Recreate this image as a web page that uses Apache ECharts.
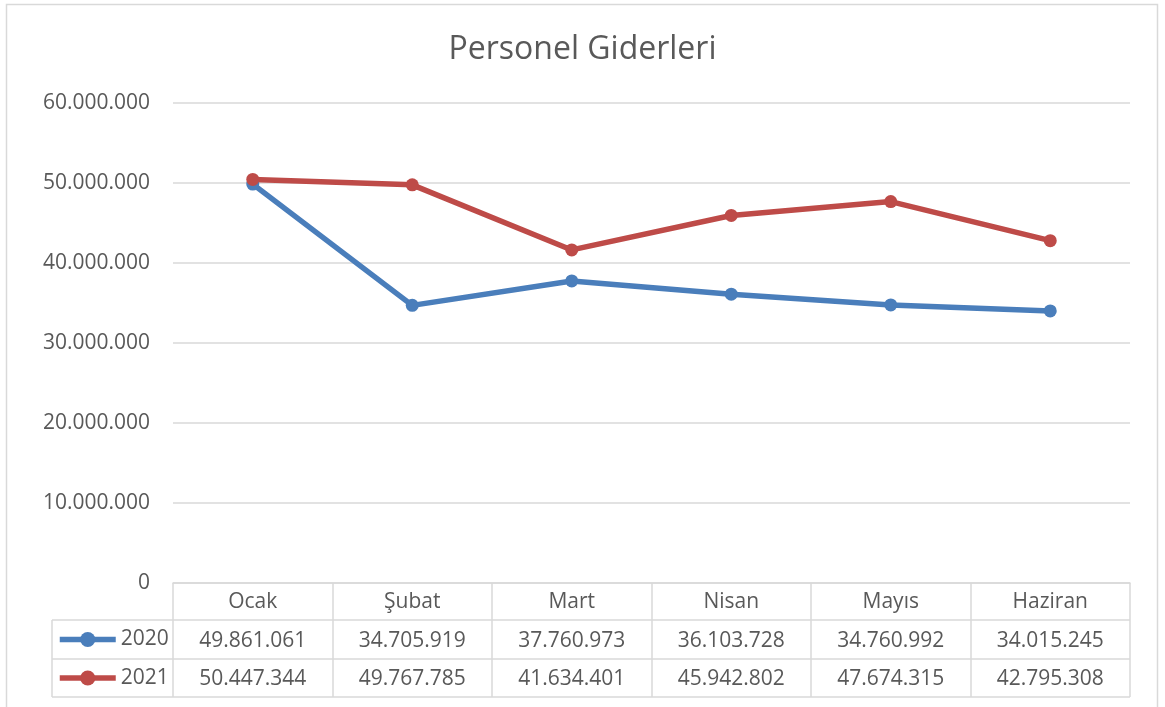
<!DOCTYPE html>
<html><head><meta charset="utf-8">
<script src="https://cdn.jsdelivr.net/npm/echarts@6/dist/echarts.min.js"></script>
<style>html,body{margin:0;padding:0;background:#fff}#c{width:1165px;height:707px}</style>
</head><body><div id="c"></div>
<script>
var title = 'Personel Giderleri';
var categories = ['Ocak', 'Şubat', 'Mart', 'Nisan', 'Mayıs', 'Haziran'];
var seriesNames = ['2020', '2021'];
var values2020 = [49861061, 34705919, 37760973, 36103728, 34760992, 34015245];
var values2021 = [50447344, 49767785, 41634401, 45942802, 47674315, 42795308];
var yTicks = [0, 10000000, 20000000, 30000000, 40000000, 50000000, 60000000];

function fmt(v){ return String(v).replace(/\B(?=(\d{3})+(?!\d))/g, '.'); }

var FONT = '"Open Sans", Lato, sans-serif';
var TXT = '#595959';
var GRID_C = '#d9d9d9';
var FS = 21;
var chart = echarts.init(document.getElementById('c'), null, {renderer:'canvas'});
var gl = 173, gr = 1165-1130, gt = 103, gb = 707-583;
var rowH = 38.5;

chart.setOption({
  animation:false,
  title:{text:title,left:'center',top:29,textStyle:{fontFamily:FONT,fontSize:32,fontWeight:'normal',color:TXT}},
  grid:{left:gl,right:gr,top:gt,bottom:gb,containLabel:false},
  legend:{
    orient:'vertical',left:57,top:628,padding:0,itemWidth:56,itemHeight:19,itemGap:15.5,
    lineStyle:{width:5.5},
    textStyle:{fontFamily:FONT,fontSize:FS,color:TXT,lineHeight:23},
    data:seriesNames
  },
  xAxis:{
    type:'category',data:categories,boundaryGap:true,
    axisLine:{lineStyle:{color:GRID_C,width:1.5}},
    axisTick:{show:true,length:114,lineStyle:{color:GRID_C,width:1.5}},
    axisLabel:{
      margin:0,interval:0,fontFamily:FONT,fontSize:FS,color:TXT,lineHeight:rowH,
      formatter:function(v,i){ return v+'\n'+fmt(values2020[i])+'\n'+fmt(values2021[i]); }
    }
  },
  yAxis:{
    type:'value',min:yTicks[0],max:yTicks[yTicks.length-1],interval:10000000,
    axisLine:{show:false},axisTick:{show:false},
    splitLine:{lineStyle:{color:GRID_C,width:1.5}},
    axisLabel:{margin:23,fontFamily:FONT,fontSize:FS,color:TXT,formatter:function(v){return fmt(v);}}
  },
  series:[
    {name:seriesNames[0],type:'line',data:values2020,symbol:'circle',symbolSize:13,
     lineStyle:{width:5.5,color:'#4a7ebb'},itemStyle:{color:'#4a7ebb'}},
    {name:seriesNames[1],type:'line',data:values2021,symbol:'circle',symbolSize:13,
     lineStyle:{width:5.5,color:'#be4b48'},itemStyle:{color:'#be4b48'}}
  ],
  graphic:[
    {type:'rect',shape:{x:6.5,y:4.5,width:1151,height:720},style:{fill:'none',stroke:GRID_C,lineWidth:1.5},silent:true},
    {type:'line',shape:{x1:52,y1:620,x2:1130,y2:620},style:{stroke:GRID_C,lineWidth:1.5}},
    {type:'line',shape:{x1:52,y1:659,x2:1130,y2:659},style:{stroke:GRID_C,lineWidth:1.5}},
    {type:'line',shape:{x1:52,y1:697,x2:1130,y2:697},style:{stroke:GRID_C,lineWidth:1.5}},
    {type:'line',shape:{x1:52,y1:620,x2:52,y2:697},style:{stroke:GRID_C,lineWidth:1.5}}
  ]
});
</script></body></html>
